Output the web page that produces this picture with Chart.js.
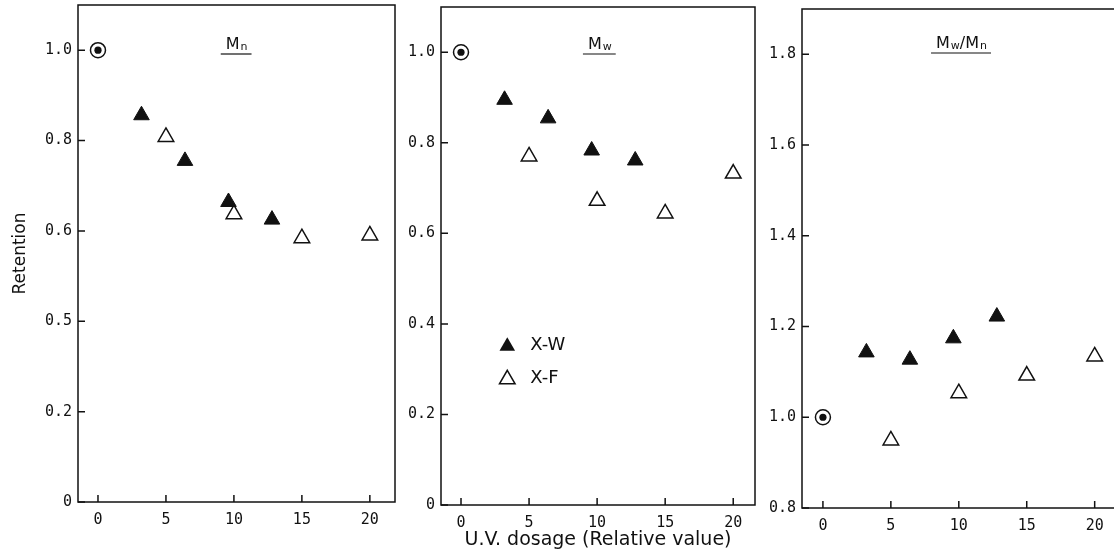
<!DOCTYPE html>
<html>
<head>
<meta charset="utf-8">
<script src="https://cdn.jsdelivr.net/npm/chart.js@4/dist/chart.umd.min.js"></script>
<style>
  html, body { margin: 0; padding: 0; background: #fff; }
  body { width: 1114px; height: 555px; overflow: hidden; position: relative; }
  .panel { position: absolute; top: 0; height: 555px; }
</style>
</head>
<body>
<div class="panel" style="left:0px;width:400px"><canvas id="mnChart" width="400" height="555"></canvas></div>
<div class="panel" style="left:400px;width:360px"><canvas id="mwChart" width="360" height="555"></canvas></div>
<div class="panel" style="left:760px;width:380px"><canvas id="ratioChart" width="380" height="555"></canvas></div>
<script>
// U.V. dosage (relative value) of each sample series
const originDose = [0];
const xwDose = [3.2, 6.4, 9.6, 12.8];
const xfDose = [5, 10, 15, 20];

// Mn retention
const mnOrigin = [1.0];
const mnXW = [0.856, 0.755, 0.664, 0.625];
const mnXF = [0.808, 0.637, 0.584, 0.590];

// Mw retention
const mwOrigin = [1.0];
const mwXW = [0.895, 0.854, 0.783, 0.761];
const mwXF = [0.770, 0.672, 0.644, 0.732];

// Mw/Mn ratio
const ratioOrigin = [1.0];
const ratioXW = [1.143, 1.127, 1.174, 1.222];
const ratioXF = [0.949, 1.053, 1.092, 1.134];

// tick values and labels
const xTicks = [0, 5, 10, 15, 20];
const xTickLabels = ['0', '5', '10', '15', '20'];
const retentionTicks = [0, 0.2, 0.4, 0.6, 0.8, 1.0];
const mnTickLabels = ['0', '0.2', '0.5', '0.6', '0.8', '1.0'];
const mwTickLabels = ['0', '0.2', '0.4', '0.6', '0.8', '1.0'];
const ratioTicks = [0.8, 1.0, 1.2, 1.4, 1.6, 1.8];
const ratioTickLabels = ['0.8', '1.0', '1.2', '1.4', '1.6', '1.8'];

const seriesNames = ['X-W', 'X-F'];

const INK = '#111';
const tickFont = { family: "'DejaVu Sans Mono', monospace", size: 15 };

function pts(xs, ys) {
    return xs.map((x, i) => ({ x: x, y: ys[i] }));
}

function triangle(ctx, x, y, r, filled) {
    ctx.beginPath();
    ctx.moveTo(x, y - r);
    ctx.lineTo(x + r * Math.sqrt(3) / 2, y + r / 2);
    ctx.lineTo(x - r * Math.sqrt(3) / 2, y + r / 2);
    ctx.closePath();
    if (filled) {
        ctx.fillStyle = INK;
        ctx.fill();
    } else {
        ctx.fillStyle = '#fff';
        ctx.fill();
        ctx.lineWidth = 1.5;
        ctx.strokeStyle = INK;
        ctx.stroke();
    }
}

// box around the plot area plus inward tick marks
const framePlugin = {
    id: 'frame',
    beforeDatasetsDraw(chart) {
        const { ctx, chartArea: a, scales } = chart;
        ctx.save();
        ctx.strokeStyle = INK;
        ctx.lineWidth = 1.5;
        ctx.strokeRect(a.left, a.top, a.right - a.left, a.bottom - a.top);
        ctx.beginPath();
        scales.x.ticks.forEach(t => {
            const px = scales.x.getPixelForValue(t.value);
            ctx.moveTo(px, a.bottom);
            ctx.lineTo(px, a.bottom - 7);
        });
        scales.y.ticks.forEach(t => {
            const py = scales.y.getPixelForValue(t.value);
            ctx.moveTo(a.left, py);
            ctx.lineTo(a.left + 7, py);
        });
        ctx.stroke();
        ctx.restore();
    },
    afterDraw(chart, args, opts) {
        const { ctx, chartArea: a, scales } = chart;
        ctx.save();
        // underlined M label with subscripts
        if (opts.parts) {
            const big = "16px 'DejaVu Sans', sans-serif";
            const small = "11px 'DejaVu Sans', sans-serif";
            let w = 0;
            opts.parts.forEach(p => {
                ctx.font = p.sub ? small : big;
                w += ctx.measureText(p.t).width + (p.sub ? 1 : 0);
            });
            const cx = scales.x.getPixelForValue(opts.labelX);
            const base = a.top + opts.labelDy;
            let x = cx - w / 2;
            ctx.fillStyle = INK;
            ctx.textBaseline = 'alphabetic';
            ctx.textAlign = 'left';
            opts.parts.forEach(p => {
                ctx.font = p.sub ? small : big;
                ctx.fillText(p.t, x + (p.sub ? 1 : 0), base + (p.sub ? 1 : 0));
                x += ctx.measureText(p.t).width + (p.sub ? 1 : 0);
            });
            ctx.beginPath();
            ctx.lineWidth = 1.2;
            ctx.strokeStyle = INK;
            ctx.moveTo(cx - w / 2 - 5, base + 5);
            ctx.lineTo(cx + w / 2 + 4, base + 5);
            ctx.stroke();
        }
        // legend inside the middle panel
        if (opts.legend) {
            const lx = scales.x.getPixelForValue(opts.legend.x);
            const ly = scales.y.getPixelForValue(opts.legend.y);
            ctx.font = "18px 'DejaVu Sans', sans-serif";
            ctx.textBaseline = 'middle';
            ctx.textAlign = 'left';
            seriesNames.forEach((name, i) => {
                const y = ly + i * 33;
                triangle(ctx, lx, y + 2, 9, i === 0);
                ctx.fillStyle = INK;
                ctx.fillText(name, lx + 23, y + 1);
            });
        }
        ctx.restore();
    }
};

function makePanel(id, cfg) {
    const ctx = document.getElementById(id).getContext('2d');
    new Chart(ctx, {
        type: 'scatter',
        data: {
            // datasets are painted last-to-first, so the dot comes first to sit on top of the ring
            datasets: [
                {
                    label: 'origin dot', data: pts(originDose, cfg.origin),
                    pointStyle: 'circle', pointRadius: 3.6, pointBorderWidth: 0,
                    pointBackgroundColor: INK, pointBorderColor: INK
                },
                {
                    label: 'origin ring', data: pts(originDose, cfg.origin),
                    pointStyle: 'circle', pointRadius: 7.5, pointBorderWidth: 1.5,
                    pointBackgroundColor: '#fff', pointBorderColor: INK
                },
                {
                    label: seriesNames[0], data: pts(xwDose, cfg.xw),
                    pointStyle: 'triangle', pointRadius: 9, pointBorderWidth: 1,
                    pointBackgroundColor: INK, pointBorderColor: INK
                },
                {
                    label: seriesNames[1], data: pts(xfDose, cfg.xf),
                    pointStyle: 'triangle', pointRadius: 9, pointBorderWidth: 1.5,
                    pointBackgroundColor: '#fff', pointBorderColor: INK
                }
            ]
        },
        options: {
            responsive: false,
            animation: false,
            events: [],
            layout: {
                autoPadding: false,
                padding: { left: 0, right: cfg.padRight, top: cfg.padTop, bottom: 0 }
            },
            scales: {
                x: {
                    type: 'linear',
                    min: cfg.xMin,
                    max: cfg.xMax,
                    afterFit: s => { s.height = cfg.xHeight; s.paddingLeft = 0; s.paddingRight = 0; },
                    afterBuildTicks: s => { s.ticks = xTicks.map(v => ({ value: v })); },
                    grid: { display: false, drawTicks: false },
                    border: { display: false },
                    ticks: {
                        color: INK, font: tickFont, padding: 9, maxRotation: 0,
                        callback: (v, i) => xTickLabels[i]
                    },
                    title: cfg.xTitle ? {
                        display: true, text: cfg.xTitle, color: INK,
                        font: { family: "'DejaVu Sans', sans-serif", size: 19 },
                        padding: { top: 0, bottom: 4 }
                    } : { display: false }
                },
                y: {
                    type: 'linear',
                    min: cfg.yMin,
                    max: cfg.yMax,
                    afterFit: s => { s.width = cfg.yWidth; s.paddingTop = 0; s.paddingBottom = 0; },
                    afterBuildTicks: s => { s.ticks = cfg.yTicks.map(v => ({ value: v })); },
                    grid: { display: false, drawTicks: false },
                    border: { display: false },
                    ticks: {
                        color: INK, font: tickFont, padding: 6,
                        callback: (v, i) => cfg.yTickLabels[i]
                    },
                    title: cfg.yTitle ? {
                        display: true, text: cfg.yTitle, color: INK,
                        font: { family: "'DejaVu Sans', sans-serif", size: 17 },
                        padding: { top: 10, bottom: 0 }
                    } : { display: false }
                }
            },
            plugins: {
                legend: { display: false },
                tooltip: { enabled: false },
                frame: { parts: cfg.parts, labelX: 10.2, labelDy: cfg.labelDy, legend: cfg.legend }
            }
        },
        plugins: [framePlugin]
    });
}

makePanel('mnChart', {
    origin: mnOrigin, xw: mnXW, xf: mnXF,
    xMin: -1.47, xMax: 21.85, yMin: 0, yMax: 1.1,
    yTicks: retentionTicks, yTickLabels: mnTickLabels,
    padRight: 5, padTop: 5, yWidth: 78, xHeight: 53,
    yTitle: 'Retention',
    parts: [{ t: 'M' }, { t: 'n', sub: true }], labelDy: 44
});

makePanel('mwChart', {
    origin: mwOrigin, xw: mwXW, xf: mwXF,
    xMin: -1.47, xMax: 21.6, yMin: 0, yMax: 1.1,
    yTicks: retentionTicks, yTickLabels: mwTickLabels,
    padRight: 5, padTop: 7, yWidth: 41, xHeight: 50,
    xTitle: 'U.V. dosage (Relative value)',
    parts: [{ t: 'M' }, { t: 'w', sub: true }], labelDy: 42,
    legend: { x: 3.4, y: 0.355 }
});

makePanel('ratioChart', {
    origin: ratioOrigin, xw: ratioXW, xf: ratioXF,
    xMin: -1.54, xMax: 22.6, yMin: 0.8, yMax: 1.9,
    yTicks: ratioTicks, yTickLabels: ratioTickLabels,
    padRight: 10, padTop: 9, yWidth: 42, xHeight: 47,
    parts: [{ t: 'M' }, { t: 'w', sub: true }, { t: '/' }, { t: 'M' }, { t: 'n', sub: true }], labelDy: 39
});
</script>
</body>
</html>
